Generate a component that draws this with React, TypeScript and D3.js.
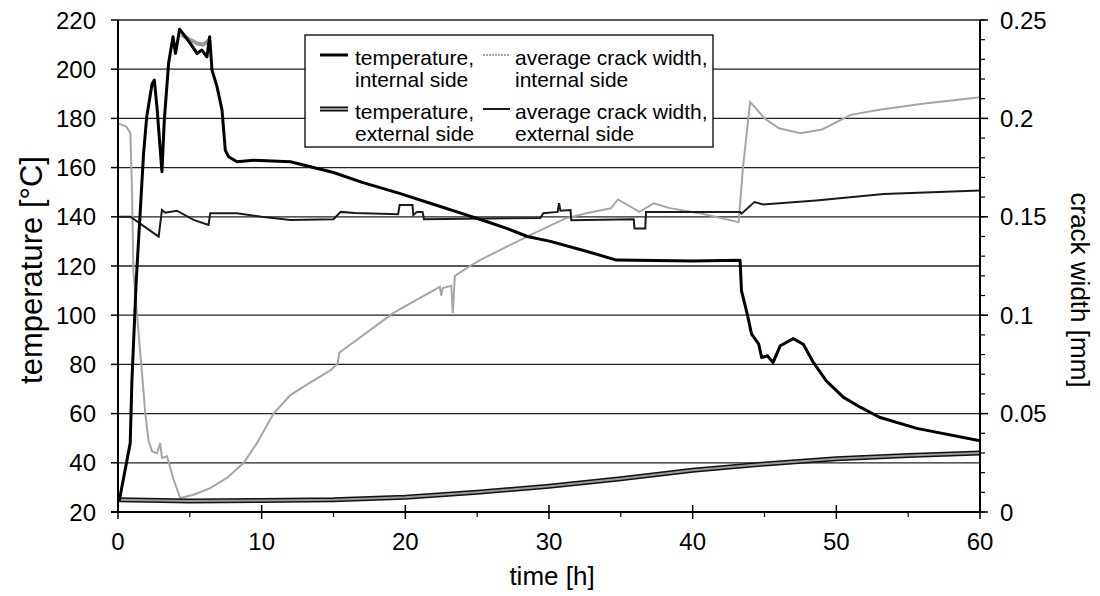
import React from 'react';
import * as d3 from 'd3';

// time [h] / temperature [°C] pairs
const tempInternal: [number, number][] = [
  [0, 25], [0.1, 25], [0.85, 48], [0.97, 73.6], [1.27, 114], [1.78, 165.8], [2.0, 180.7],
  [2.37, 194], [2.53, 195.6], [2.71, 184.8], [3.06, 158.3], [3.22, 179], [3.52, 202.4],
  [3.83, 213.2], [4.0, 206.4], [4.29, 216.2], [4.61, 213.9], [5.03, 210.5], [5.5, 206.4],
  [5.84, 207.8], [6.19, 205], [6.38, 213.2], [6.54, 199.7], [6.89, 192.9], [7.24, 183.4],
  [7.47, 167], [7.7, 164.4], [8.28, 162.4], [9.44, 163], [12, 162.4], [15, 158], [17, 154],
  [19.6, 149.5], [22, 145], [24.3, 140.7], [25.7, 138], [27.1, 135.2], [28.5, 132],
  [30.1, 130], [32.6, 126], [34.7, 122.4], [40, 122], [43.3, 122.3], [43.4, 109.9],
  [43.8, 100.4], [44.1, 92.3], [44.6, 88.2], [44.8, 82.8], [45.2, 83.5], [45.6, 80.8],
  [46.1, 87.6], [47.0, 90.5], [47.7, 88.2], [48.4, 80.8], [49.3, 73.3], [50.5, 66.6],
  [51.7, 62.5], [53, 58.5], [55.6, 54], [60, 49],
];

// grey scatter band visible just under the peak of the internal temperature
const tempInternalBand: [number, number][] = [
  [4.4, 214], [5.0, 212], [5.5, 210.5], [5.9, 210], [6.2, 211], [6.35, 212],
];

const tempExternal: [number, number][] = [
  [0, 25], [5, 24.5], [10, 24.7], [15, 25], [20, 26], [25, 28], [30, 30.5], [35, 33.5],
  [40, 37], [45, 39.5], [50, 41.6], [55, 43], [60, 44],
];

// time [h] / crack width [mm]
const crackInternal: [number, number][] = [
  [0, 0.1975], [0.58, 0.1958], [0.86, 0.1925], [0.97, 0.165], [1.07, 0.1225], [1.71, 0.067],
  [1.9, 0.05], [2.13, 0.0363], [2.37, 0.0308], [2.71, 0.0299], [2.94, 0.035], [3.06, 0.0275],
  [3.41, 0.0283], [3.87, 0.0165], [4.33, 0.0071], [5.26, 0.0088], [6.42, 0.0121],
  [7.58, 0.0173], [8.74, 0.0249], [9.67, 0.035], [10.83, 0.05], [12, 0.0594], [13.2, 0.065],
  [14.8, 0.0721], [15.3, 0.0756], [15.4, 0.0809], [19.2, 0.1013], [22.4, 0.1144],
  [22.5, 0.11], [22.6, 0.1138], [23.2, 0.115], [23.3, 0.101], [23.45, 0.12], [24.5, 0.125],
  [25.2, 0.128], [27.1, 0.135], [28.5, 0.14], [29.2, 0.1425], [31.2, 0.1493], [32.6, 0.1518],
  [34.3, 0.1543], [34.8, 0.1588], [36.3, 0.1525], [37.3, 0.1569], [38.4, 0.1544],
  [40.5, 0.1518], [43.2, 0.1473], [43.5, 0.175], [44.0, 0.2083], [44.3, 0.206], [45, 0.2],
  [46, 0.195], [47.5, 0.1925], [49, 0.1944], [51, 0.2018], [53, 0.2044], [56, 0.2075],
  [60, 0.2108],
];

const crackExternal: [number, number][] = [
  [0, 0.15], [0.86, 0.15], [2.83, 0.1399], [3.06, 0.1535], [3.29, 0.1521], [4.1, 0.1531],
  [5.26, 0.1484], [6.3, 0.1459], [6.42, 0.1518], [8.28, 0.1518], [10, 0.15], [12, 0.1484],
  [15, 0.1488], [15.5, 0.1525], [16.5, 0.1519], [19.5, 0.1513], [19.6, 0.156], [20.5, 0.156],
  [20.55, 0.1509], [20.8, 0.1525], [21.2, 0.1525], [21.3, 0.1488], [29.4, 0.1494],
  [29.6, 0.1518], [30.6, 0.1525], [30.7, 0.1569], [30.8, 0.1531], [31.5, 0.1534],
  [31.55, 0.1483], [35.9, 0.1488], [35.95, 0.144], [36.7, 0.144], [36.75, 0.1525],
  [40.5, 0.1525], [43.3, 0.1525], [43.4, 0.1516], [44.3, 0.1575], [44.9, 0.1563],
  [48.6, 0.1583], [53.3, 0.1616], [60, 0.1634],
];

const tempTicks = [20, 40, 60, 80, 100, 120, 140, 160, 180, 200, 220];
const crackTicks = [0, 0.05, 0.1, 0.15, 0.2, 0.25];
const timeTicks = [0, 10, 20, 30, 40, 50, 60];

const W = 1100;
const H = 596;
const M = { left: 118, right: 980, top: 20, bottom: 512 };
const FONT = 'Liberation Sans, Arial, sans-serif';

export default function App() {
  const x = d3.scaleLinear().domain([0, 60]).range([M.left, M.right]);
  const yT = d3.scaleLinear().domain([20, 220]).range([M.bottom, M.top]);
  const yC = d3.scaleLinear().domain([0, 0.25]).range([M.bottom, M.top]);

  const lineT = d3.line<[number, number]>().x(d => x(d[0])).y(d => yT(d[1]));
  const lineC = d3.line<[number, number]>().x(d => x(d[0])).y(d => yC(d[1]));

  const minorC = d3.range(0, 0.2501, 0.01);
  const minorX = d3.range(5, 60, 10);

  return (
    <svg width={W} height={H} style={{ position: 'absolute', left: 0, top: 0, background: '#fff' }}
      fontFamily={FONT}>
      {/* horizontal gridlines */}
      {tempTicks.map(t => (
        <line key={'g' + t} x1={M.left} x2={M.right} y1={yT(t)} y2={yT(t)} stroke="#222" strokeWidth={1.3} />
      ))}

      {/* data */}
      <path d={lineC(crackInternal) ?? ''} fill="none" stroke="#a6a6a6" strokeWidth={2} />
      <path d={lineC(crackExternal) ?? ''} fill="none" stroke="#1a1a1a" strokeWidth={2} />
      <path d={lineT(tempExternal) ?? ''} fill="none" stroke="#111" strokeWidth={5} />
      <path d={lineT(tempExternal) ?? ''} fill="none" stroke="#9a9a9a" strokeWidth={2} />
      <path d={lineT(tempInternalBand) ?? ''} fill="none" stroke="#999" strokeWidth={4} />
      <path d={lineT(tempInternal) ?? ''} fill="none" stroke="#000" strokeWidth={3} strokeLinejoin="round" />

      {/* left axis */}
      <line x1={M.left} x2={M.left} y1={M.top} y2={M.bottom} stroke="#000" strokeWidth={2} />
      {tempTicks.map(t => (
        <g key={'l' + t}>
          <line x1={M.left - 7} x2={M.left} y1={yT(t)} y2={yT(t)} stroke="#000" strokeWidth={1.5} />
          <text x={M.left - 22} y={yT(t)} dy="0.36em" textAnchor="end" fontSize={24}>{t}</text>
        </g>
      ))}

      {/* right axis */}
      <line x1={M.right} x2={M.right} y1={M.top} y2={M.bottom} stroke="#000" strokeWidth={2} />
      {minorC.map(c => (
        <line key={'m' + c} x1={M.right} x2={M.right + 5} y1={yC(c)} y2={yC(c)} stroke="#000" strokeWidth={1.2} />
      ))}
      {crackTicks.map(c => (
        <g key={'r' + c}>
          <line x1={M.right} x2={M.right + 8} y1={yC(c)} y2={yC(c)} stroke="#000" strokeWidth={1.5} />
          <text x={M.right + 20} y={yC(c)} dy="0.36em" textAnchor="start" fontSize={24}>{c}</text>
        </g>
      ))}

      {/* bottom axis */}
      <line x1={M.left - 7} x2={M.right} y1={M.bottom} y2={M.bottom} stroke="#000" strokeWidth={2} />
      {timeTicks.map(t => (
        <g key={'b' + t}>
          <line x1={x(t)} x2={x(t)} y1={M.bottom - 7} y2={M.bottom + 7} stroke="#000" strokeWidth={1.5} />
          <text x={x(t)} y={M.bottom + 38} textAnchor="middle" fontSize={24}>{t}</text>
        </g>
      ))}
      {minorX.map(t => (
        <line key={'bm' + t} x1={x(t)} x2={x(t)} y1={M.bottom} y2={M.bottom + 5} stroke="#000" strokeWidth={1.2} />
      ))}

      {/* axis titles */}
      <text x={552} y={585} textAnchor="middle" fontSize={26}>time [h]</text>
      <text transform={`translate(42,270) rotate(-90)`} textAnchor="middle" fontSize={31}>
        temperature [°C]
      </text>
      <text transform={`translate(1071,290) rotate(90)`} textAnchor="middle" fontSize={26}>
        crack width [mm]
      </text>

      {/* legend */}
      <g fontSize={21}>
        <rect x={305} y={35} width={408} height={112} fill="#fff" stroke="#000" strokeWidth={1.3} />
        <line x1={320} x2={348} y1={55} y2={55} stroke="#000" strokeWidth={3} />
        <text x={355} y={65}>temperature,</text>
        <text x={355} y={87}>internal side</text>
        <line x1={320} x2={348} y1={109} y2={109} stroke="#111" strokeWidth={5} />
        <line x1={320} x2={348} y1={109} y2={109} stroke="#9a9a9a" strokeWidth={2} />
        <text x={355} y={119}>temperature,</text>
        <text x={355} y={141}>external side</text>
        <line x1={483} x2={510} y1={55} y2={55} stroke="#a6a6a6" strokeWidth={2} strokeDasharray="2,1" />
        <text x={515} y={65}>average crack width,</text>
        <text x={515} y={87}>internal side</text>
        <line x1={483} x2={510} y1={109} y2={109} stroke="#1a1a1a" strokeWidth={2} />
        <text x={515} y={119}>average crack width,</text>
        <text x={515} y={141}>external side</text>
      </g>
    </svg>
  );
}
